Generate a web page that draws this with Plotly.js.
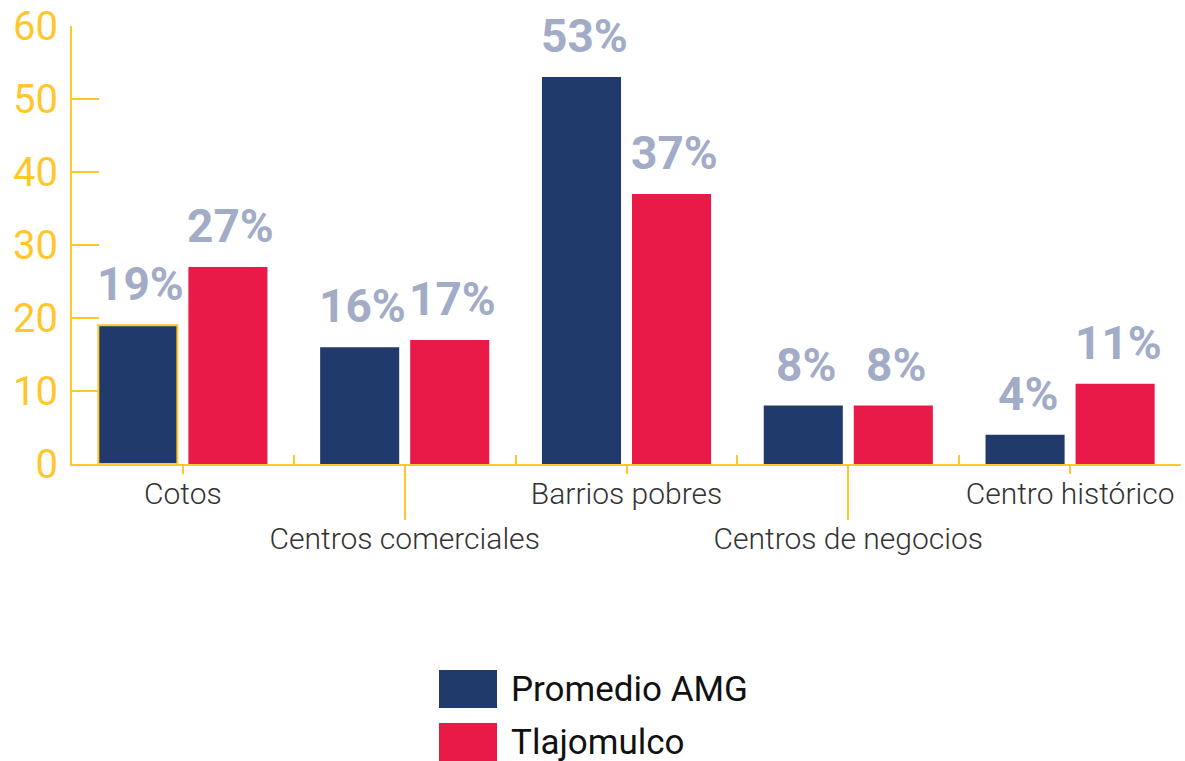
<!DOCTYPE html>
<html>
<head>
<meta charset="utf-8">
<script src="https://cdn.plot.ly/plotly-3.0.1.min.js"></script>
<style>html,body{margin:0;padding:0;background:#fff;}#chart{width:1185px;height:761px;}</style>
</head>
<body>
<div id="chart"></div>
<script>
const categories = ["Cotos", "Centros comerciales", "Barrios pobres", "Centros de negocios", "Centro histórico"];
const seriesNames = ["Promedio AMG", "Tlajomulco"];
const promedioAMG = [19, 16, 53, 8, 4];
const tlajomulco = [27, 17, 37, 8, 11];
const yTicks = [0, 10, 20, 30, 40, 50, 60];

const NAVY = '#1F3A6B', RED = '#E91A47', YELLOW = '#FFC72C', LABEL = '#A2ACC7';
const BARGAP = 0.188, BARGROUPGAP = 0.122;

const upperRow = categories.filter((c, i) => i % 2 === 0);
const lowerRow = categories.filter((c, i) => i % 2 === 1);

const traces = [
  {type: 'bar', name: seriesNames[0], x: categories, y: promedioAMG,
   marker: {color: NAVY, line: {color: categories.map((c, i) => i === 0 ? YELLOW : 'rgba(0,0,0,0)'), width: categories.map((c, i) => i === 0 ? 2 : 0)}},
   hoverinfo: 'x+y', showlegend: false, cliponaxis: false},
  {type: 'bar', name: seriesNames[1], x: categories, y: tlajomulco,
   marker: {color: RED}, hoverinfo: 'x+y', showlegend: false, cliponaxis: false},
  {type: 'scatter', mode: 'none', x: categories, y: categories.map(() => 0), xaxis: 'x2', yaxis: 'y', showlegend: false, hoverinfo: 'skip'},
  {type: 'scatter', mode: 'none', x: categories, y: categories.map(() => 0), xaxis: 'x3', yaxis: 'y', showlegend: false, hoverinfo: 'skip'}
];

// value labels above bars
const off = (1 - BARGAP) / 4;
const annotations = [];
[promedioAMG, tlajomulco].forEach((vals, s) => {
  vals.forEach((v, i) => {
    annotations.push({x: i + (s === 0 ? -off : off), y: v, xref: 'x', yref: 'y',
      text: v + '%', showarrow: false, yanchor: 'bottom', yshift: 12, xshift: 3,
      font: {family: 'Roboto', size: 46, color: LABEL, weight: 700}});
  });
});

// custom legend
const W = 1185, H = 761, ML = 72, MR = 4, MT = 26, MB = 297;
const pw = W - ML - MR, ph = H - MT - MB;
const px = p => (p - ML) / pw;
const py = p => (H - MB - p) / ph;
const legendColors = [NAVY, RED];
const shapes = [];
seriesNames.forEach((n, k) => {
  const top = 670 + k * 53;
  shapes.push({type: 'rect', xref: 'paper', yref: 'paper', x0: px(439), x1: px(497), y0: py(top), y1: py(top + 38),
    fillcolor: legendColors[k], line: {width: 0}});
  annotations.push({xref: 'paper', yref: 'paper', x: px(509), y: py(top + 19), xanchor: 'left', yanchor: 'middle',
    height: 38, valign: 'middle',
    text: n, showarrow: false, font: {family: 'Roboto', size: 35, color: '#111'}});
});

const xlabFont = {family: 'Roboto', size: 30, color: '#333', weight: 300};

const layout = {
  width: W, height: H,
  margin: {l: ML, r: MR, t: MT, b: MB},
  paper_bgcolor: '#fff', plot_bgcolor: '#fff',
  barmode: 'group', bargap: BARGAP, bargroupgap: BARGROUPGAP,
  showlegend: false,
  xaxis: {type: 'category', categoryarray: categories, categoryorder: 'array',
    showline: true, linecolor: YELLOW, linewidth: 2,
    ticks: 'inside', tickson: 'boundaries', ticklen: 9, tickwidth: 2, tickcolor: YELLOW,
    showticklabels: false, showgrid: false, zeroline: false, fixedrange: true},
  xaxis2: {type: 'category', overlaying: 'x', matches: 'x', anchor: 'y', side: 'bottom',
    tickmode: 'array', tickvals: upperRow, ticktext: upperRow,
    ticks: 'outside', ticklen: 9, tickwidth: 2, tickcolor: YELLOW, ticklabelstandoff: -6,
    showline: false, showgrid: false, zeroline: false, tickfont: xlabFont, tickangle: 0},
  xaxis3: {type: 'category', overlaying: 'x', matches: 'x', anchor: 'y', side: 'bottom',
    tickmode: 'array', tickvals: lowerRow, ticktext: lowerRow,
    ticks: 'outside', ticklen: 55, tickwidth: 2, tickcolor: YELLOW, ticklabelstandoff: -7,
    showline: false, showgrid: false, zeroline: false, tickfont: xlabFont, tickangle: 0},
  yaxis: {range: [0, 60], tickmode: 'array', tickvals: yTicks,
    showline: true, linecolor: YELLOW, linewidth: 2,
    ticks: 'inside', ticklen: 27, tickwidth: 2, tickcolor: YELLOW, ticklabelstandoff: 4,
    tickfont: {family: 'Roboto', size: 40, color: YELLOW},
    showgrid: false, zeroline: false, fixedrange: true},
  annotations: annotations,
  shapes: shapes
};

Plotly.newPlot('chart', traces, layout, {displayModeBar: false, staticPlot: true});
</script>
</body>
</html>
